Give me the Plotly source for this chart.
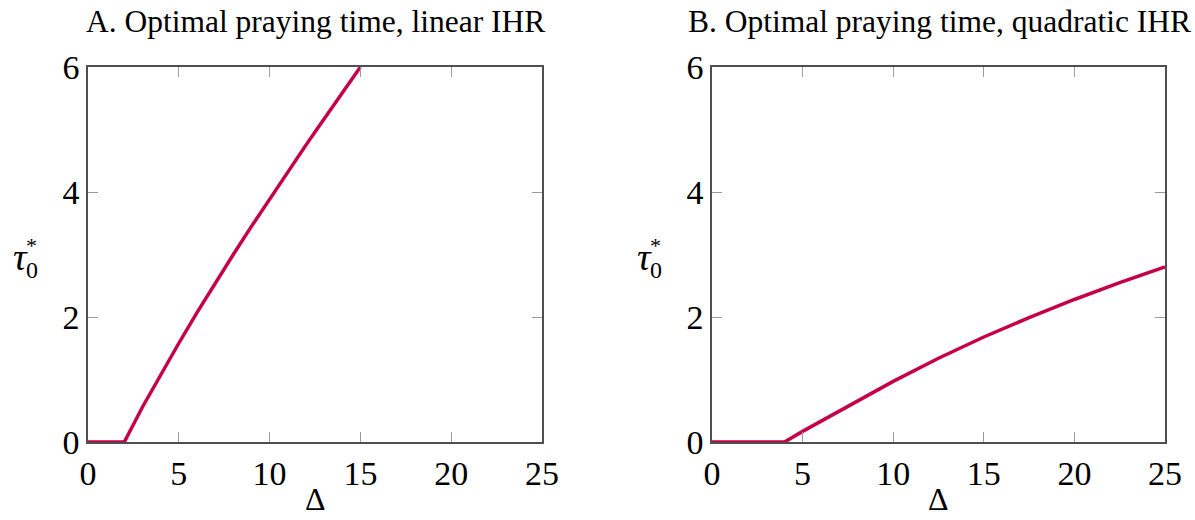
import plotly.graph_objects as go

# Panel A: linear IHR
delta_a = [0, 2, 3, 4, 5, 6, 7, 7.5, 8, 9, 10, 11, 12, 12.5, 13, 14, 15]
tau_a = [0, 0, 0.56, 1.08, 1.58, 2.07, 2.54, 2.77, 3.0, 3.45, 3.89, 4.32, 4.75, 4.96, 5.17, 5.59, 6.0]

# Panel B: quadratic IHR
delta_b = [0, 4, 5, 7.5, 10, 12.5, 15, 17.5, 20, 22.5, 25]
tau_b = [0, 0, 0.17, 0.57, 0.97, 1.34, 1.68, 1.99, 2.28, 2.55, 2.8]

titles = ["A. Optimal praying time, linear IHR", "B. Optimal praying time, quadratic IHR"]
x_ticks = [0, 5, 10, 15, 20, 25]
y_ticks = [0, 2, 4, 6]

W, H = 1195, 520
LINE = "#C5004A"
FONT = "Liberation Serif"

def px(x):
    return x / W

def py(y):
    return 1 - y / H

fig = go.Figure()
fig.add_trace(go.Scatter(x=delta_a, y=tau_a, mode="lines", line=dict(color=LINE, width=3.5),
                         xaxis="x", yaxis="y", cliponaxis=False, showlegend=False))
fig.add_trace(go.Scatter(x=delta_b, y=tau_b, mode="lines", line=dict(color=LINE, width=3.5),
                         xaxis="x2", yaxis="y2", cliponaxis=False, showlegend=False))

ax_common = dict(showgrid=False, zeroline=False, showline=True, linecolor="#4f4f4f", linewidth=1.5,
                 mirror="ticks", ticks="inside", ticklen=10, tickcolor="#9a9a9a", tickwidth=1,
                 automargin=False,
                 tickfont=dict(family=FONT, size=34, color="black"))

doms = [(88, 542), (712, 1165)]
title_cx = [315, 939]
ydom = [py(442), py(67)]
fig.update_layout(
    width=W, height=H, autosize=False, margin=dict(l=0, r=0, t=0, b=0, pad=0, autoexpand=False),
    paper_bgcolor="white", plot_bgcolor="white",
    xaxis=dict(domain=[px(doms[0][0]), px(doms[0][1])], range=[0, 25], tickvals=x_ticks, anchor="y", **ax_common),
    yaxis=dict(domain=ydom, range=[0, 6], tickvals=y_ticks, anchor="x", **ax_common),
    xaxis2=dict(domain=[px(doms[1][0]), px(doms[1][1])], range=[0, 25], tickvals=x_ticks, anchor="y2", **ax_common),
    yaxis2=dict(domain=ydom, range=[0, 6], tickvals=y_ticks, anchor="x2", **ax_common),
)

anns = []
for i, (l, r) in enumerate(doms):
    cx = (l + r) / 2
    anns.append(dict(text=titles[i], x=px(title_cx[i]), y=py(22), xref="paper", yref="paper",
                     showarrow=False, font=dict(family=FONT, size=31.5, color="black"),
                     xanchor="center", yanchor="middle"))
    anns.append(dict(text="Δ", x=px(cx), y=py(499), xref="paper", yref="paper",
                     showarrow=False, font=dict(family=FONT, size=32, color="black"),
                     xanchor="center", yanchor="middle"))
    off = l - 88
    anns.append(dict(text="<i>τ</i>", x=px(20 + off), y=py(257), xref="paper", yref="paper",
                     showarrow=False, font=dict(family=FONT, size=38, color="black"),
                     xanchor="center", yanchor="middle"))
    anns.append(dict(text="*", x=px(32 + off), y=py(245), xref="paper", yref="paper",
                     showarrow=False, font=dict(family=FONT, size=22, color="black"),
                     xanchor="center", yanchor="middle"))
    anns.append(dict(text="0", x=px(32 + off), y=py(270), xref="paper", yref="paper",
                     showarrow=False, font=dict(family=FONT, size=24, color="black"),
                     xanchor="center", yanchor="middle"))
fig.update_layout(annotations=anns)

fig.write_html("out.html", config={"responsive": False})
